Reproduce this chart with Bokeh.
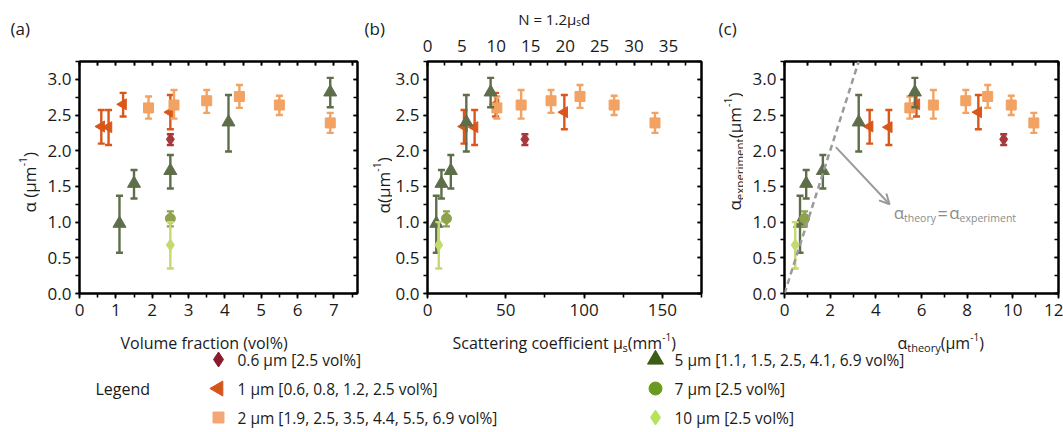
import numpy as np
from bokeh.plotting import figure
from bokeh.models import (Range1d, LinearAxis, SingleIntervalTicker, PrintfTickFormatter,
                          Label, Arrow, OpenHead, Slope)
from bokeh.layouts import row, column
from bokeh.embed import file_html
from bokeh.resources import INLINE
from bokeh.core.properties import value

FONT = "Open Sans"
INK = "#1a1a1a"

# ---------------- data ----------------
group_names = ["0.6 μm", "1 μm", "2 μm", "5 μm", "7 μm", "10 μm"]
legend_labels = ["0.6 μm [2.5 vol%]", "1 μm [0.6, 0.8, 1.2, 2.5 vol%]",
                 "2 μm [1.9, 2.5, 3.5, 4.4, 5.5, 6.9 vol%]",
                 "5 μm [1.1, 1.5, 2.5, 4.1, 6.9 vol%]", "7 μm [2.5 vol%]",
                 "10 μm [2.5 vol%]"]

# volume fraction (vol%) as plotted in (a)
vol_06 = [2.5]
vol_1 = [0.6, 0.8, 1.2, 2.5]
vol_2 = [1.9, 2.6, 3.5, 4.4, 5.5, 6.9]
vol_5 = [1.1, 1.5, 2.5, 4.1, 6.9]
vol_7 = [2.5]
vol_10 = [2.5]

# scattering coefficient mu_s (mm^-1) as plotted in (b)
mus_06 = [62.2]
mus_1 = [23.3, 30.1, 43.5, 87.4]
mus_2 = [44.3, 59.8, 78.9, 97.4, 119.2, 145.3]
mus_5 = [5.6, 8.9, 14.9, 24.8, 40.3]
mus_7 = [12.1]
mus_10 = [7.2]

# alpha theory (um^-1) as plotted in (c)
th_06 = [9.6]
th_1 = [3.73, 4.57, 5.78, 8.49]
th_2 = [5.49, 6.52, 7.94, 8.90, 9.93, 10.92]
th_5 = [0.68, 0.95, 1.68, 3.25, 5.71]
th_7 = [0.88]
th_10 = [0.47]

# measured alpha (um^-1) with error bar limits
a_06 = [2.16]; lo_06 = [2.08]; hi_06 = [2.23]
a_1 = [2.34, 2.33, 2.65, 2.54]; lo_1 = [2.10, 2.08, 2.48, 2.30]; hi_1 = [2.57, 2.57, 2.81, 2.78]
a_2 = [2.60, 2.64, 2.70, 2.76, 2.64, 2.39]; lo_2 = [2.45, 2.45, 2.53, 2.60, 2.50, 2.25]
hi_2 = [2.76, 2.85, 2.85, 2.92, 2.77, 2.53]
a_5 = [0.98, 1.54, 1.72, 2.40, 2.82]; lo_5 = [0.57, 1.33, 1.47, 1.99, 2.61]
hi_5 = [1.37, 1.73, 1.94, 2.78, 3.02]
a_7 = [1.05]; lo_7 = [0.94]; hi_7 = [1.15]
a_10 = [0.68]; lo_10 = [0.35]; hi_10 = [1.00]

# ---------------- styling ----------------
plot_colors = ["#a5393b", "#d9571a", "#f2a263", "#5e6e4a", "#8da24a", "#c4da6e"]
legend_colors = ["#8b1a2e", "#d4561a", "#f4a776", "#3d5c16", "#6c9a20", "#b7e25c"]
markers = ["diamond", "triangle", "square", "triangle", "circle", "diamond"]
marker_angles = [0, np.pi / 2, 0, 0, 0, 0]
plot_sizes = [12, 11, 10, 13, 10, 12]
legend_sizes = [15, 15, 11, 16, 13, 15]

groups = [
    dict(vol=vol_06, mus=mus_06, th=th_06, a=a_06, lo=lo_06, hi=hi_06),
    dict(vol=vol_1, mus=mus_1, th=th_1, a=a_1, lo=lo_1, hi=hi_1),
    dict(vol=vol_2, mus=mus_2, th=th_2, a=a_2, lo=lo_2, hi=hi_2),
    dict(vol=vol_5, mus=mus_5, th=th_5, a=a_5, lo=lo_5, hi=hi_5),
    dict(vol=vol_7, mus=mus_7, th=th_7, a=a_7, lo=lo_7, hi=hi_7),
    dict(vol=vol_10, mus=mus_10, th=th_10, a=a_10, lo=lo_10, hi=hi_10),
]

EM = {' ': 0.26, '(': 0.296, ')': 0.296, '-': 0.322, '.': 0.266, '=': 0.572, '%': 0.83,
      ',': 0.245, '[': 0.3, ']': 0.3, 'N': 0.742, 'S': 0.537, 'a': 0.556, 'c': 0.476,
      'd': 0.613, 'e': 0.561, 'f': 0.339, 'g': 0.548, 'h': 0.614, 'i': 0.253, 'l': 0.253,
      'm': 0.93, 'n': 0.614, 'o': 0.604, 'p': 0.613, 'r': 0.408, 's': 0.477, 't': 0.353,
      'u': 0.614, 'v': 0.5, 'x': 0.524, 'y': 0.502, 'α': 0.61, 'μ': 0.62}


def text_width(t, size):
    return sum(EM.get(ch, 0.572 if ch.isdigit() else 0.55) for ch in t) * size


def rich_px(f, pieces, x, y, rotated=False, color=INK):
    """Text pieces in a strip whose data units are page pixels (y down).
    pieces: (text, font px, baseline shift px, + = down)"""
    pos = 0.0
    for t, s, dy in pieces:
        if rotated:
            px, py = x + dy, y - pos
        else:
            px, py = x + pos, y + dy
        f.text(x=[px], y=[py], text=[t], angle=np.pi / 2 if rotated else 0,
               text_font=value(FONT), text_font_size=f"{s}px", text_color=color,
               text_align="left", text_baseline="alphabetic")
        pos += text_width(t, s)


def rich_label(p, pieces, x, y, color):
    """Text pieces anchored at a data point inside a panel frame.
    pieces: (text, font px, baseline shift px (+ down), extra gap after)"""
    pos = 0.0
    for t, s, dy, gap in pieces:
        p.add_layout(Label(x=x, y=y, x_offset=pos, y_offset=-dy, text=t, text_font=FONT,
                           text_font_size=f"{s}px", text_color=color, text_align="left",
                           text_baseline="alphabetic"))
        pos += text_width(t, s) + gap


def strip(x0, x1, y0, y1):
    f = figure(frame_width=x1 - x0, frame_height=y1 - y0,
               x_range=Range1d(x0, x1), y_range=Range1d(y1, y0),
               x_axis_location=None, y_axis_location=None, min_border=0,
               frame_align=False, output_backend="svg", toolbar_location=None)
    f.grid.visible = False
    f.outline_line_color = None
    return f


def style_axis(ax, interval, minor, tin, tout, labels=True, mtout=None):
    ax.ticker = SingleIntervalTicker(interval=interval, num_minor_ticks=minor)
    ax.axis_line_width = 2
    ax.axis_line_color = "black"
    ax.major_tick_in = tin
    ax.major_tick_out = tout
    ax.minor_tick_in = tin
    ax.minor_tick_out = tout if mtout is None else mtout
    ax.major_tick_line_width = 1.6
    ax.minor_tick_line_width = 1.6
    ax.major_tick_line_color = "black"
    ax.minor_tick_line_color = "black"
    if labels:
        ax.major_label_text_font = FONT
        ax.major_label_text_font_size = "17px"
        ax.major_label_text_color = INK
    else:
        ax.major_label_text_color = None
        ax.major_label_text_font_size = "1px"
        ax.major_label_standoff = 0


FRAME_H = 232
YMAX = 3.25
BOTTOM = 31
TB_H = 28


def make_panel(key, xmax, bl, fw, br, xint, top):
    p = figure(frame_width=fw, frame_height=FRAME_H,
               x_range=Range1d(0, xmax), y_range=Range1d(0, YMAX),
               min_border_left=bl, min_border_right=br,
               min_border_top=top, min_border_bottom=BOTTOM, frame_align=False,
               output_backend="svg", toolbar_location=None)
    p.grid.visible = False
    p.outline_line_color = "black"
    p.outline_line_width = 2
    style_axis(p.xaxis[0], xint, 2, 0, 5, mtout=4)
    p.xaxis[0].major_label_standoff = 5
    style_axis(p.yaxis[0], 0.5, 2, 0, 4)
    p.yaxis[0].major_label_standoff = 4
    p.yaxis[0].formatter = PrintfTickFormatter(format="%.1f")
    right = LinearAxis()
    style_axis(right, 0.5, 2, 4, 0, labels=False)
    p.add_layout(right, "right")
    if key != "mus":
        topax = LinearAxis()
        style_axis(topax, xint / 2, 1, 4, 0, labels=False)
        p.add_layout(topax, "above")
    for i, g in enumerate(groups):
        c = plot_colors[i]
        xs = g[key]
        p.segment(x0=xs, y0=g["lo"], x1=xs, y1=g["hi"], line_color=c, line_width=2.4)
        p.scatter(x=xs + xs, y=g["lo"] + g["hi"], marker="dash", size=7,
                  line_color=c, line_width=2.4)
        p.scatter(x=xs, y=g["a"], marker=markers[i], angle=marker_angles[i],
                  size=plot_sizes[i], fill_color=c, line_color=c)
    return p


# page layout (px): a frame 79..357, b frame 426..700, c frame 783..1057; frames 61..293
fa = make_panel("vol", 7.65, 39, 278, 5, 1, 61)
fb = make_panel("mus", 175, 34, 274, 14, 50, 61 - TB_H)
fc = make_panel("th", 12, 41, 274, 5, 2, 61)

fb.extra_x_ranges = {"N": Range1d(0, 39.8)}
topN = LinearAxis(x_range_name="N")
style_axis(topN, 5, 2, 4, 0)
topN.major_label_standoff = 10
fb.add_layout(topN, "above")

fc.add_layout(Slope(gradient=1, y_intercept=0, line_color="#9a9a9a", line_width=2.5,
                    line_dash="6 4"))
fc.add_layout(Arrow(x_start=2.25, y_start=2.05, x_end=4.6, y_end=1.25,
                    line_color="#9a9a9a", line_width=2,
                    end=OpenHead(size=10, line_color="#9a9a9a", line_width=2)))
rich_label(fc, [("α", 17, 0, 0), ("theory", 10.5, 5, 1.5), ("=", 18, 0, 1.5), ("α", 17, 0, 0),
                ("experiment", 10.5, 5, 0)], 4.78, 1.13, "#8c8c8c")

H_TOP = 61 + FRAME_H + BOTTOM  # 324

# strips carrying the panel letters and y-axis titles
ya = strip(0, 40, 0, H_TOP)
yb = strip(362, 392, 0, H_TOP)
yc = strip(714, 742, 0, H_TOP)
for f, x, t in [(ya, 10, "(a)"), (yb, 364, "(b)"), (yc, 717, "(c)")]:
    f.text(x=[x], y=[28], text=[t], text_font=value(FONT), text_font_size="17px",
           text_baseline="middle", text_align="left", text_color=INK)
rich_px(ya, [("α (μm", 17, 0), ("-1", 10.5, -6.5), (")", 17, 0)], 28.5, 212, rotated=True)
rich_px(yb, [("α(μm", 17, 0), ("-1", 10.5, -6.5), (")", 17, 0)], 383.3, 213, rotated=True)
rich_px(yc, [("α", 17, 0), ("experiment", 11.5, 5), ("(μm", 17, 0), ("-1", 10.5, -6.5),
             (")", 17, 0)], 733, 210, rotated=True)

# strip above panel (b): title of the top axis
tb = strip(392, 714, 0, TB_H)
rich_px(tb, [("N = 1.2μ", 15, 0), ("s", 10, 3), ("d", 15, 0)], 517.7, 18)

# bottom strip: x-axis titles and legend
W_ALL = 1062
bot = strip(0, W_ALL, H_TOP, 430)
XL_BASE = H_TOP + 18.5
rich_px(bot, [("Volume fraction (vol%)", 16, 0)], 120, XL_BASE)
rich_px(bot, [("Scattering coefficient μ", 16, 0), ("s", 11, 4), ("(mm", 16, 0),
              ("-1", 10, -6), (")", 16, 0)], 452, XL_BASE)
rich_px(bot, [("α", 16, 0), ("theory", 11, 4), ("(μm", 16, 0), ("-1", 10, -6), (")", 16, 0)],
        897, XL_BASE)

col_x = [218, 218, 218, 655, 655, 655]
row_y = [359, 388, 417, 359, 388, 417]
for i in range(6):
    bot.scatter(x=[col_x[i]], y=[row_y[i]], marker=markers[i], angle=marker_angles[i],
                size=legend_sizes[i], fill_color=legend_colors[i], line_color=legend_colors[i])
bot.text(x=[cx + 19 for cx in col_x], y=row_y, text=legend_labels, text_font=value(FONT),
         text_font_size="15.5px", text_baseline="middle", text_align="left", text_color=INK)
bot.text(x=[95], y=[388], text=["Legend"], text_font=value(FONT), text_font_size="16px",
         text_baseline="middle", text_align="left", text_color=INK)

layout = column(row(ya, fa, yb, column(tb, fb), yc, fc), bot)
open("out.html", "w").write(file_html(layout, INLINE))
